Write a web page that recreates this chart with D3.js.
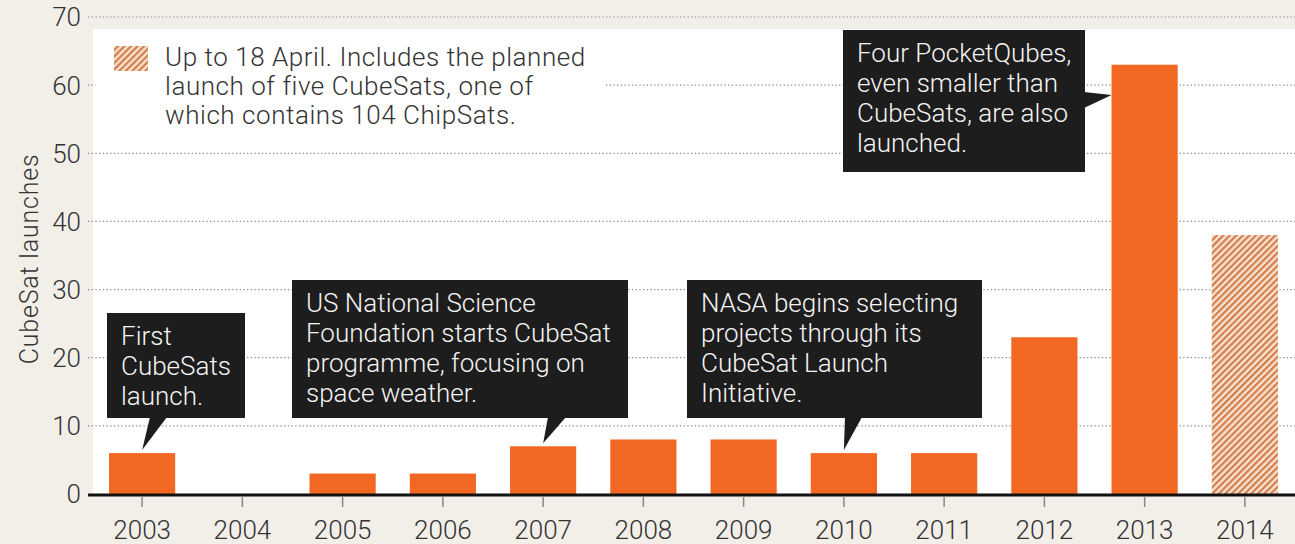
<!DOCTYPE html>
<html><head><meta charset="utf-8">
<script src="https://cdn.jsdelivr.net/npm/d3@7"></script>
<style>
html,body{margin:0;padding:0;background:#f2efe9;}
svg{display:block;}
text{font-family:Roboto,"Noto Sans",sans-serif;font-weight:300;}
</style></head>
<body>
<script>
const years = ["2003","2004","2005","2006","2007","2008","2009","2010","2011","2012","2013","2014"];
const launches = [6,0,3,3,7,8,8,6,6,23,63,38];
const partialYears = ["2014"];
const yTicks = [0,10,20,30,40,50,60,70];
const yTitle = "CubeSat launches";
const legendLines = ["Up to 18 April. Includes the planned","launch of five CubeSats, one of","which contains 104 ChipSats."];
const noteYears = ["2003","2007","2010","2013"];
const noteTexts = [
  ["First","CubeSats","launch."],
  ["US National Science","Foundation starts CubeSat","programme, focusing on","space weather."],
  ["NASA begins selecting","projects through its","CubeSat Launch","Initiative."],
  ["Four PocketQubes,","even smaller than","CubeSats, are also","launched."]
];

const W=1295,H=544;
const ORANGE="#f26722", BOX="#1d1d1d", TXT="#333";
const FS=26;
const svg=d3.select("body").append("svg").attr("width",W).attr("height",H);
svg.append("rect").attr("width",W).attr("height",H).attr("fill","#f2efe9");

const x=d3.scaleBand().domain(years).range([92,1295]).paddingInner(0.34).paddingOuter(0.17);
const y=d3.scaleLinear().domain([0,70]).range([494,17]);

// white panel
svg.append("rect").attr("x",93).attr("y",29).attr("width",W-93).attr("height",494-29).attr("fill","#fff");

// hatch pattern
const defs=svg.append("defs");
const pat=defs.append("pattern").attr("id","hatch").attr("patternUnits","userSpaceOnUse")
  .attr("width",4.6).attr("height",4.6).attr("patternTransform","rotate(45)");
pat.append("rect").attr("width",4.6).attr("height",4.6).attr("fill","#f9e2d0");
pat.append("rect").attr("width",2.2).attr("height",4.6).attr("fill","#d27e4c");

// gridlines
svg.append("g").selectAll("line").data(yTicks.filter(d=>d>0)).join("line")
  .attr("x1",88).attr("x2",W).attr("y1",d=>y(d)).attr("y2",d=>y(d))
  .attr("stroke","#8a8a8a").attr("stroke-width",1.2).attr("stroke-dasharray","1.3,2.4");

// y labels
svg.append("g").selectAll("text").data(yTicks).join("text")
  .attr("x",81).attr("y",d=>y(d)).attr("dy","0.36em").attr("text-anchor","end")
  .attr("font-size",FS).attr("fill",TXT).text(d=>d);

svg.append("text").attr("transform",`translate(38,${y(34.5)}) rotate(-90)`)
  .attr("text-anchor","middle").attr("font-size",25).attr("letter-spacing",0.8)
  .attr("fill",TXT).text(yTitle);

// legend box
svg.append("rect").attr("x",96).attr("y",34).attr("width",510).attr("height",100).attr("fill","#fff");
svg.append("rect").attr("x",114).attr("y",46).attr("width",34).attr("height",25).attr("fill","url(#hatch)");
svg.append("g").selectAll("text").data(legendLines).join("text")
  .attr("x",165).attr("y",(d,i)=>66+i*29).attr("font-size",FS).attr("letter-spacing",0.55)
  .attr("fill",TXT).text(d=>d);

// bars
svg.append("g").selectAll("rect").data(years.map((yr,i)=>({yr,v:launches[i]}))).join("rect")
  .attr("x",d=>x(d.yr)).attr("width",x.bandwidth())
  .attr("y",d=>y(d.v)).attr("height",d=>y(0)-y(d.v))
  .attr("fill",d=>partialYears.includes(d.yr)?"url(#hatch)":ORANGE);

// x axis
svg.append("line").attr("x1",88).attr("x2",W).attr("y1",y(0)+1).attr("y2",y(0)+1)
  .attr("stroke","#111").attr("stroke-width",3);
const xa=svg.append("g").attr("transform",`translate(0,${y(0)+2})`)
  .call(d3.axisBottom(x).tickSize(11).tickPadding(0));
xa.select(".domain").remove();
xa.selectAll("line").attr("stroke","#888").attr("stroke-width",1.5);
xa.selectAll("text").attr("font-size",FS).attr("fill",TXT).attr("font-family","Roboto,sans-serif")
  .attr("font-weight",300).attr("dy",null).attr("y",43);

// callouts (box layouts)
const layouts=[
  {bx:107,by:313,bw:138,bh:105,ptr:"bottom",b0:150,b1:167},
  {bx:292,by:280,bw:336,bh:138,ptr:"bottom",b0:548,b1:566},
  {bx:687,by:280,bw:295,bh:138,ptr:"bottom",b0:845,b1:862},
  {bx:843,by:30,bw:242,bh:142,ptr:"right",b0:92,b1:108}
];
const ng=svg.append("g");
noteYears.forEach((yr,i)=>{
  const L=layouts[i];
  const v=launches[years.indexOf(yr)];
  let tip, pts;
  if(L.ptr==="bottom"){
    tip=[x(yr)+x.bandwidth()/2, y(v)-3];
    pts=[[L.b0,L.by+L.bh-1],[L.b1,L.by+L.bh-1],tip];
  } else {
    tip=[x(yr), 95];
    pts=[[L.bx+L.bw-1,L.b0],[L.bx+L.bw-1,L.b1],tip];
  }
  ng.append("rect").attr("x",L.bx).attr("y",L.by).attr("width",L.bw).attr("height",L.bh).attr("fill",BOX);
  ng.append("path").attr("d",d3.line()(pts)+"Z").attr("fill",BOX);
  ng.append("g").selectAll("text").data(noteTexts[i]).join("text")
    .attr("x",L.bx+14).attr("y",(d,j)=>L.by+32+j*30)
    .attr("font-size",FS).attr("fill","#f4f4f4").text(d=>d);
});
</script>
</body></html>
